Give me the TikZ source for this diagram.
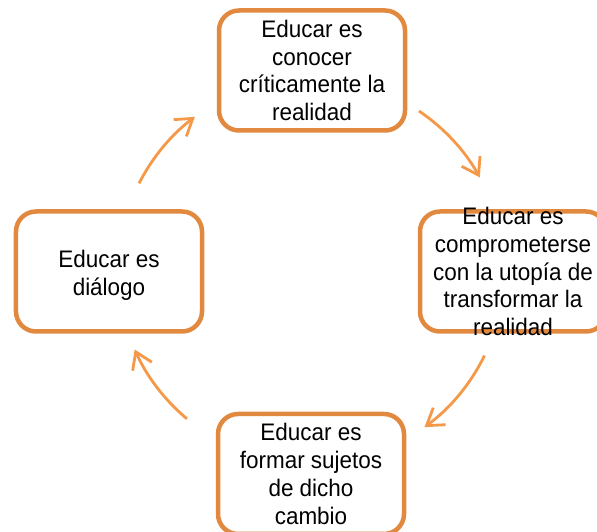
\documentclass[tikz,border=0pt]{standalone}
\usepackage{fontspec}
\setmainfont[FakeStretch=0.94]{Liberation Sans}
\usetikzlibrary{arrows.meta}
\definecolor{bordenaranja}{RGB}{226,137,64}
\definecolor{flechanaranja}{RGB}{245,152,72}
\begin{document}
\begin{tikzpicture}[x=1bp, y=1bp,
                    line width=4.5bp,
                    radius=193,
                    ]
    \tikzstyle{caja}=[draw=bordenaranja, rounded corners=20bp, minimum width=186bp, minimum height=120bp, inner sep=0pt, fill=white]
    \tikzstyle{texto}=[align=center, inner sep=0pt, font=\fontsize{24}{28}\selectfont]
    \tikzstyle{flecha}=[draw=flechanaranja, line width=2.8bp, -{Straight Barb[length=16bp, width=21bp]}]

    \useasboundingbox (0,0) rectangle (597,532);

    \coordinate (centro) at (311,261);

    \node[caja, label={[texto]center:Educar es\\conocer\\críticamente la\\realidad}] (arriba) at (312,461.5) {};
    \node[caja, label={[texto]center:Educar es\\comprometerse\\con la utopía de\\transformar la\\realidad}] (derecha) at (513,260.5) {};
    \node[caja, label={[texto]center:Educar es\\formar sujetos\\de dicho\\cambio}] (abajo) at (311,58) {};
    \node[caja, label={[texto, yshift=-4bp]center:Educar es\\diálogo}] (izquierda) at (109,260.5) {};

    \foreach \a/\b in {56/29, -26/-54, -130/-156, 153/127}
        \draw[flecha] (centro) ++(\a:193) arc[start angle=\a, end angle=\b];
\end{tikzpicture}
\end{document}
